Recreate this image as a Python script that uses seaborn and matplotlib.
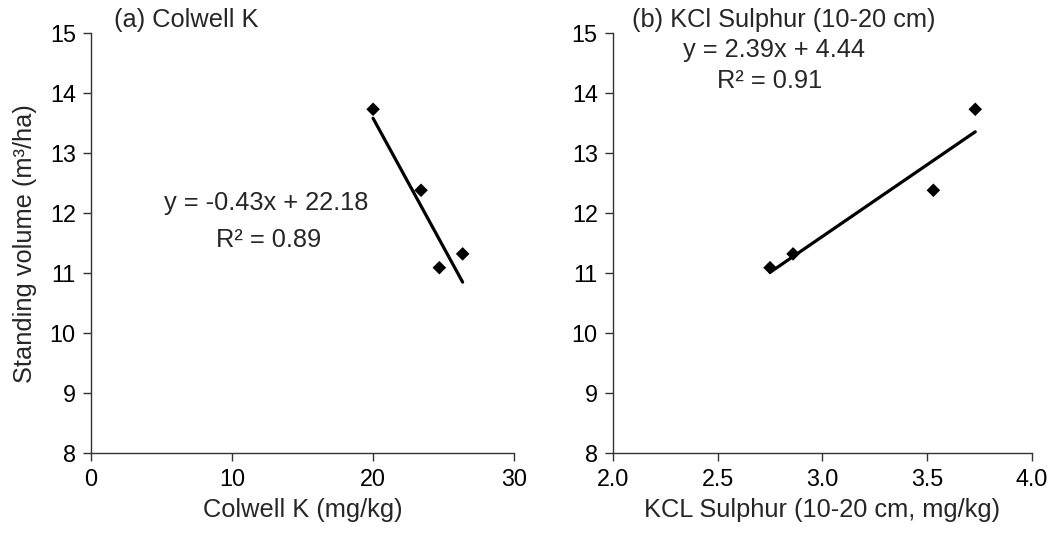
import matplotlib
matplotlib.use("Agg")
import matplotlib.pyplot as plt
import numpy as np
import pandas as pd
import seaborn as sns

# Measured values
colwell_k = [20.0, 23.4, 24.7, 26.35]
sulphur = [3.73, 3.53, 2.75, 2.86]
standing_volume = [13.73, 12.38, 11.09, 11.32]

# Fitted trend lines (slope, intercept) and R^2
fit_k = (-0.43, 22.18, 0.89)
fit_s = (2.39, 4.44, 0.91)

y_ticks = [8, 9, 10, 11, 12, 13, 14, 15]
xk_ticks = [0, 10, 20, 30]
xs_ticks = [2.0, 2.5, 3.0, 3.5, 4.0]

sns.set_theme(style="white")
plt.rcParams["font.family"] = ["Liberation Sans", "DejaVu Sans"]

df = pd.DataFrame({"k": colwell_k, "s": sulphur, "v": standing_volume})

fig = plt.figure(figsize=(10.55, 5.42), dpi=100)
ax1 = fig.add_axes([0.0863, 0.164, 0.4010, 0.775])
ax2 = fig.add_axes([0.5810, 0.164, 0.3970, 0.775])

spine_c = "#333333"
tick_fs = 16.8
text_fs = 18.3


def style(ax):
    for side in ("top", "right"):
        ax.spines[side].set_visible(False)
    for side in ("left", "bottom"):
        ax.spines[side].set_color(spine_c)
        ax.spines[side].set_linewidth(1.0)
    ax.tick_params(axis="both", direction="out", length=6, width=1.0,
                   color=spine_c, labelsize=tick_fs, labelcolor="black",
                   bottom=True, left=True, pad=5)
    ax.set_ylim(8, 15)
    ax.set_yticks(y_ticks)
    ax.grid(False)


def trend(ax, xcol, fit):
    slope, intercept, _ = fit
    xs = np.array([df[xcol].min(), df[xcol].max()])
    line = pd.DataFrame({"x": xs, "y": slope * xs + intercept})
    sns.lineplot(data=line, x="x", y="y", ax=ax, color="black",
                 linewidth=2.3, legend=False)


# (a) Colwell K
trend(ax1, "k", fit_k)
sns.scatterplot(data=df, x="k", y="v", ax=ax1, marker="D", s=48,
                color="black", edgecolor="none", zorder=3, legend=False)
style(ax1)
ax1.set_xlim(0, 30)
ax1.set_xticks(xk_ticks)
ax1.set_xticklabels([str(t) for t in xk_ticks])
ax1.set_xlabel("Colwell K (mg/kg)", fontsize=text_fs, labelpad=5)
ax1.set_ylabel("Standing volume (m\u00b3/ha)", fontsize=text_fs, labelpad=9)
ax1.text(0.054, 1.031, "(a) Colwell K", transform=ax1.transAxes,
         fontsize=text_fs, ha="left", va="center")
ax1.text(12.45, 12.17, f"y = {fit_k[0]:.2f}x + {fit_k[1]:.2f}",
         fontsize=text_fs, ha="center", va="center")
ax1.text(12.6, 11.55, f"R\u00b2 = {fit_k[2]:.2f}",
         fontsize=text_fs, ha="center", va="center")

# (b) KCl Sulphur
trend(ax2, "s", fit_s)
sns.scatterplot(data=df, x="s", y="v", ax=ax2, marker="D", s=48,
                color="black", edgecolor="none", zorder=3, legend=False)
style(ax2)
ax2.set_xlim(2.0, 4.0)
ax2.set_xticks(xs_ticks)
ax2.set_xticklabels([f"{t:.1f}" for t in xs_ticks])
ax2.set_xlabel("KCL Sulphur (10-20 cm, mg/kg)", fontsize=text_fs, labelpad=5)
ax2.set_ylabel("")
ax2.text(0.045, 1.031, "(b) KCl Sulphur (10-20 cm)", transform=ax2.transAxes,
         fontsize=text_fs, ha="left", va="center")
ax2.text(2.77, 14.72, f"y = {fit_s[0]:.2f}x + {fit_s[1]:.2f}",
         fontsize=text_fs, ha="center", va="center")
ax2.text(2.75, 14.2, f"R\u00b2 = {fit_s[2]:.2f}",
         fontsize=text_fs, ha="center", va="center")

fig.savefig("out.png", dpi=100, facecolor="white")
